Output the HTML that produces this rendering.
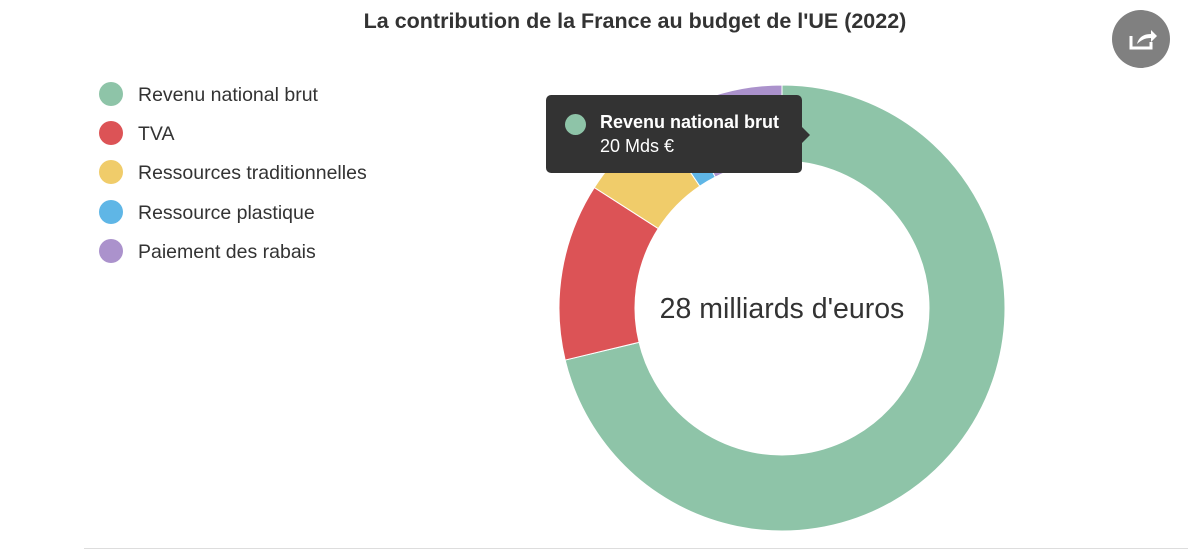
<!DOCTYPE html>
<html><head><meta charset="utf-8"><style>
body{margin:0;width:1188px;height:551px;background:#fff;font-family:"Liberation Sans",sans-serif;overflow:hidden;position:relative}
.t{position:absolute;top:9px;left:0;width:1270px;text-align:center;font-weight:bold;font-size:21.5px;color:#333}
.lg{position:absolute;left:99px;font-size:19.5px;color:#333}
.lg span{display:inline-block;width:24px;height:24px;border-radius:50%;vertical-align:middle;margin-right:15px;position:relative;top:-2px}
.tip{position:absolute;left:546px;top:95px;width:256px;height:78px;background:#333;border-radius:5px;color:#fff}
</style></head><body>
<div class="t">La contribution de la France au budget de l'UE (2022)</div>
<div class="lg" style="top:84px"><span style="background:#8ec4a8"></span>Revenu national brut</div>
<div class="lg" style="top:123px"><span style="background:#dc5356"></span>TVA</div>
<div class="lg" style="top:162px"><span style="background:#f0cc6a"></span>Ressources traditionnelles</div>
<div class="lg" style="top:202px"><span style="background:#5fb6e6"></span>Ressource plastique</div>
<div class="lg" style="top:241px"><span style="background:#ab92cc"></span>Paiement des rabais</div>
<svg id="s" width="1188" height="551" style="position:absolute;left:0;top:0">
<line x1="84" y1="548.5" x2="1188" y2="548.5" stroke="#ddd"/>
<circle cx="1141" cy="39" r="29" fill="#808080"/>
<path d="M1131 36v12h20v-6" fill="none" stroke="#fff" stroke-width="3"/>
<path d="M1137 44c2-8 8-10 14-10v-4l6 6-6 6v-4c-6 0-10 2-14 6z" fill="#fff"/>
<text x="782" y="318" text-anchor="middle" font-size="28.5" fill="#333" font-family="Liberation Sans">28 milliards d'euros</text>
</svg>
<div class="tip"><div style="position:absolute;left:256px;top:32px;border:8px solid transparent;border-left-color:#333"></div>
<span style="position:absolute;left:19px;top:19px;width:21px;height:21px;border-radius:50%;background:#8ec4a8"></span>
<div style="position:absolute;left:54px;top:17px;font-weight:bold;font-size:18px">Revenu national brut</div>
<div style="position:absolute;left:54px;top:41px;font-size:18px">20 Mds €</div></div>
<script>
var s=document.getElementById('s'),cx=782,cy=308,R=223,r=147;
var seg=[[0,256.5,'#8ec4a8'],[256.5,302.7,'#dc5356'],[302.7,326,'#f0cc6a'],[326,333,'#5fb6e6'],[333,360,'#ab92cc']];
function p(a,rr){a=a*Math.PI/180;return (cx+rr*Math.sin(a)).toFixed(2)+' '+(cy-rr*Math.cos(a)).toFixed(2);}
seg.forEach(function(g){var l=(g[1]-g[0])>180?1:0;
var d='M'+p(g[0],R)+' A'+R+' '+R+' 0 '+l+' 1 '+p(g[1],R)+' L'+p(g[1],r)+' A'+r+' '+r+' 0 '+l+' 0 '+p(g[0],r)+'Z';
var e=document.createElementNS('http://www.w3.org/2000/svg','path');e.setAttribute('d',d);e.setAttribute('fill',g[2]);e.setAttribute('stroke','#fff');e.setAttribute('stroke-width','1');
s.insertBefore(e,s.querySelector('text'));});
</script>
</body></html>
